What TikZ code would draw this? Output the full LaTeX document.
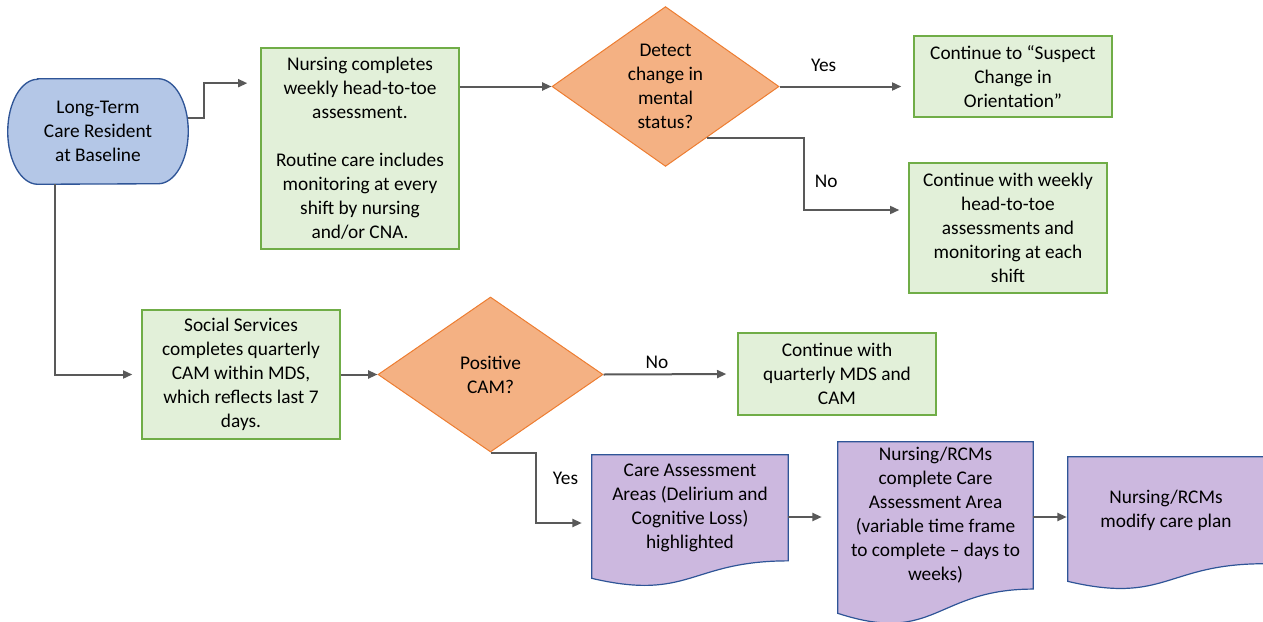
\documentclass[tikz,border=0pt]{standalone}
\usepackage{fontspec}
\setmainfont{Carlito}
\usetikzlibrary{arrows.meta,positioning,shapes.geometric,calc,backgrounds}
\definecolor{termfill}{HTML}{B4C7E7}
\definecolor{termline}{HTML}{2F5597}
\definecolor{stepfill}{HTML}{E2F0D9}
\definecolor{stepline}{HTML}{70AD47}
\definecolor{askfill}{HTML}{F4B183}
\definecolor{askline}{HTML}{ED7D31}
\definecolor{docfill}{HTML}{CCB8DF}
\definecolor{docline}{HTML}{2F5597}
\definecolor{flow}{HTML}{595959}

\begin{document}
\begin{tikzpicture}[x=0.75pt,y=-0.75pt,
 every node/.style={font=\fontsize{14.5pt}{18pt}\selectfont,align=center},
 termbox/.style={minimum width=135pt,minimum height=78.75pt,inner sep=0pt},
 termshape/.style={draw=termline,fill=termfill,line width=1pt},
 stepbox/.style={draw=stepline,fill=stepfill,line width=1pt,minimum width=148.5pt,inner sep=0pt},
 askbox/.style={diamond,draw=askline,fill=askfill,line width=0.75pt,inner sep=0pt},
 docbox/.style={minimum width=147pt,inner sep=0pt},
 docshape/.style={draw=docline,fill=docfill,line width=0.9pt},
 flowline/.style={draw=flow,line width=1.5pt,-{Triangle[length=7pt,width=6pt]}}]
\useasboundingbox (0,0) rectangle (1263,621);

\node[termbox] (start) at (98,131.5) {Long-Term\\Care Resident\\at Baseline};
\node[stepbox,minimum height=150.75pt] (nurse) at (360,148.5) {Nursing completes\\weekly head-to-toe\\assessment.\\[18pt]Routine care includes\\monitoring at every\\shift by nursing\\and/or CNA.};
\node[askbox,minimum width=170.25pt,minimum height=116.25pt] (detect) at (665.5,86.5) {Detect\\change in\\mental\\status?};
\node[stepbox,minimum height=60.75pt] (cont1) at (1013,76.5) {Continue to “Suspect\\Change in\\Orientation”};
\node[stepbox,minimum height=97.5pt] (cont2) at (1008,228) {Continue with weekly\\head-to-toe\\assessments and\\monitoring at each\\shift};
\node[stepbox,minimum height=96.75pt] (social) at (241,374.5) {Social Services\\completes quarterly\\CAM within MDS,\\which reflects last 7\\days.};
\node[askbox,minimum width=168.75pt,minimum height=116.25pt] (cam) at (490.5,374.5) {Positive\\CAM?};
\node[stepbox,minimum height=61.5pt] (cont3) at (837,374) {Continue with\\quarterly MDS and\\CAM};
\node[docbox,minimum height=79.2pt] (doc1) at (690,507.8) {Care Assessment\\Areas (Delirium and\\Cognitive Loss)\\highlighted};
\node[docbox,minimum width=146.25pt,minimum height=110.1pt] (doc2) at (935.5,515.4) {Nursing/RCMs\\complete Care\\Assessment Area\\(variable time frame\\to complete – days to\\weeks)};
\node[docbox,minimum height=79.9pt] (doc3) at (1166,510.2) {Nursing/RCMs\\modify care plan};

\begin{scope}[on background layer]
\draw[termshape] ([xshift=22.5pt]start.north west) -- ([xshift=-22.5pt]start.north east)
 arc[start angle=90,end angle=-90,x radius=22.5pt,y radius=39.375pt]
 -- ([xshift=22.5pt]start.south west)
 arc[start angle=270,end angle=90,x radius=22.5pt,y radius=39.375pt] -- cycle;
\foreach \d in {doc1,doc2,doc3}
 \draw[docshape] (\d.north west) -- (\d.north east) -- (\d.south east)
 .. controls (\d.south) and ($(\d.north)!1.381!(\d.south)$) .. ($(\d.north west)!1.1646!(\d.south west)$) -- cycle;
\end{scope}

\draw[flowline,shorten >=9.75pt] ([yshift=10pt]start.east) -- ++(16,0) |- ([yshift=49pt]nurse.west);
\draw[flowline] (nurse.east |- detect.west) -- (detect.west);
\draw[flowline,shorten >=9pt] (detect.east) -- (detect.east -| cont1.west) node[pos=0.33,above=7pt] (yes1) {Yes};
\draw[flowline,shorten >=6.75pt] ($(detect.east)!0.64!(detect.south)$) -- ++(97,0) |- ([yshift=13.5pt]cont2.west) node[pos=0.3,right=4.5pt] (no1) {No};
\draw[flowline,shorten >=6.75pt] ([xshift=-32.25pt]start.south) |- (social.west);
\draw[flowline] (social.east) -- (cam.west);
\draw[flowline,shorten >=8.25pt] (cam.east) -- (cont3.west) node[pos=0.4,above] (no2) {No};
\draw[flowline,shorten >=7.5pt] (cam.south) -- ++(45,0) |- ([yshift=-11.4pt]doc1.west) node[pos=0.18,right=9pt] (yes2) {Yes};
\draw[flowline,shorten >=12pt] ([yshift=-6.9pt]doc1.east) -- ([yshift=-6.9pt]doc1.east -| doc2.west);
\draw[flowline,shorten >=0.75pt] ([yshift=-1.2pt]doc2.east) -- ([yshift=-1.2pt]doc2.east -| doc3.west);
\end{tikzpicture}
\end{document}
